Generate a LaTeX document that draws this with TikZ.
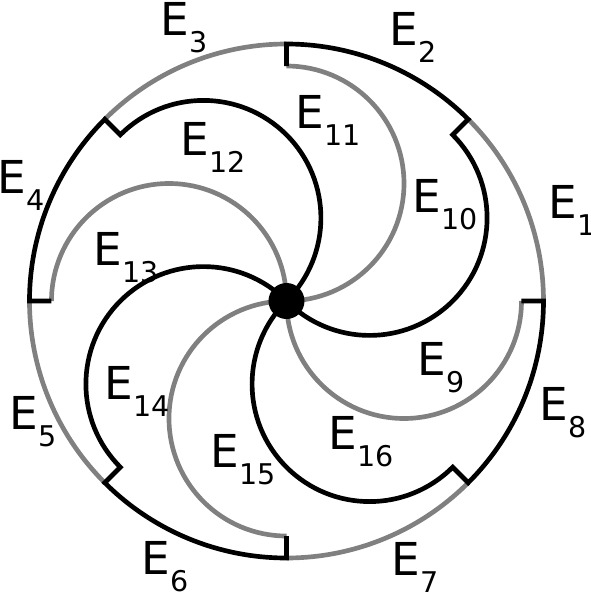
\documentclass[tikz,border=0pt]{standalone}
\usepackage{fontspec}
\setmainfont{DejaVu Sans}
\usepackage{tikz}
\definecolor{arcgray}{RGB}{128,128,128}
\newcommand{\elab}[1]{E\raisebox{-.375em}{\fontsize{21.4pt}{21.4pt}\selectfont #1}}

\begin{document}
\begin{tikzpicture}[x=.75pt,y=.75pt,line width=3.5pt,
    lab/.style={anchor=base west,inner sep=0pt,font=\fontsize{34pt}{34pt}\selectfont}]
    \useasboundingbox (-286.5,-293) rectangle (304.5,301);
    
    % gray outer arcs and gray spokes
    \foreach \a in {0,90,180,270}
    {
        \draw[arcgray] (\a:257) arc[start angle=\a, end angle=\a+45, radius=257];
        \draw[arcgray] (\a:235) arc[start angle=\a, end angle=\a-180, radius=117.5];
    }
    
    % black outer arc with its two ticks and the black spoke
    \foreach \b in {90,180,270,360}
    {
        \draw[black] (\b:235) -- (\b:257) arc[start angle=\b, end angle=\b-45, radius=257]
            -- ({\b-45}:235) arc[start angle=\b-45, end angle=\b-225, radius=117.5];
    }
    
    \node[circle,fill=black,inner sep=0pt,minimum size=27pt] (hub) at (0,0) {};
    
    \node[lab] (e1) at (260.1,83) {\elab{1}};
    \node[lab] (e2) at (101.1,256) {\elab{2}};
    \node[lab] (e3) at (-127.9,266) {\elab{3}};
    \node[lab] (e4) at (-290.9,108) {\elab{4}};
    \node[lab] (e5) at (-278.9,-128) {\elab{5}};
    \node[lab] (e6) at (-146.9,-273) {\elab{6}};
    \node[lab] (e7) at (103.1,-274) {\elab{7}};
    \node[lab] (e8) at (251.1,-119) {\elab{8}};
    \node[lab] (e9) at (129.1,-74) {\elab{9}};
    \node[lab] (e10) at (124.1,89) {\elab{10}};
    \node[lab] (e11) at (7.1,173) {\elab{11}};
    \node[lab] (e12) at (-107.9,146) {\elab{12}};
    \node[lab] (e13) at (-194.9,36) {\elab{13}};
    \node[lab] (e14) at (-183.9,-98) {\elab{14}};
    \node[lab] (e15) at (-77.9,-166) {\elab{15}};
    \node[lab] (e16) at (40.1,-148) {\elab{16}};
\end{tikzpicture}
\end{document}
